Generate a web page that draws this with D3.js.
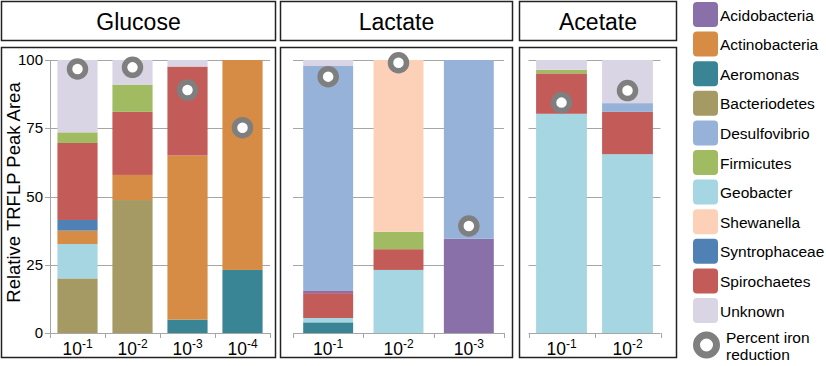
<!DOCTYPE html>
<html>
<head>
<meta charset="utf-8">
<script src="https://cdn.jsdelivr.net/npm/d3@7"></script>
<style>
  body { margin: 0; background: #fff; }
  svg { font-family: "Liberation Sans", Arial, sans-serif; }
</style>
</head>
<body>
<svg id="chart" width="826" height="366"></svg>
<script>
// legend order
let taxa = ['Acidobacteria', 'Actinobacteria', 'Aeromonas', 'Bacteriodetes', 'Desulfovibrio',
  'Firmicutes', 'Geobacter', 'Shewanella', 'Syntrophaceae', 'Spirochaetes', 'Unknown'];
let taxaColors = ['#8a70a8', '#d68c45', '#3a8595', '#a59a64', '#97b2d8',
  '#a0bb62', '#a5d6e2', '#fdd1b8', '#4f81b5', '#c35c59', '#d9d5e5'];

// stacking order, bottom to top
let stackOrder = ['Aeromonas', 'Bacteriodetes', 'Geobacter', 'Actinobacteria', 'Syntrophaceae',
  'Spirochaetes', 'Acidobacteria', 'Firmicutes', 'Desulfovibrio', 'Shewanella', 'Unknown'];

let yTicks = [0, 25, 50, 75, 100];

// Glucose
let glucoseDilutions = ['-1', '-2', '-3', '-4'];
let glucoseAeromonas      = [0, 0, 4.9, 23.1];
let glucoseBacteriodetes  = [20, 48.7, 0, 0];
let glucoseGeobacter      = [12.6, 0, 0, 0];
let glucoseActinobacteria = [4.9, 9.2, 60.1, 76.9];
let glucoseSyntrophaceae  = [3.9, 0, 0, 0];
let glucoseSpirochaetes   = [28.2, 23.1, 32.6, 0];
let glucoseFirmicutes     = [3.9, 10, 0, 0];
let glucoseUnknown        = [26.5, 9, 2.4, 0];
let glucoseIron           = [96.7, 97.3, 89, 75.2];

// Lactate
let lactateDilutions = ['-1', '-2', '-3'];
let lactateAeromonas     = [3.9, 0, 0];
let lactateGeobacter     = [1.6, 23.1, 0];
let lactateSpirochaetes  = [9.1, 7.6, 0];
let lactateAcidobacteria = [1.0, 0, 34.5];
let lactateFirmicutes    = [0, 6.4, 0];
let lactateDesulfovibrio = [82.2, 0, 65.5];
let lactateShewanella    = [0, 62.9, 0];
let lactateUnknown       = [2.2, 0, 0];
let lactateIron          = [93.9, 99, 39.2];

// Acetate
let acetateDilutions = ['-1', '-2'];
let acetateGeobacter     = [80.3, 65.5];
let acetateSpirochaetes  = [14.8, 15.5];
let acetateFirmicutes    = [1.3, 0];
let acetateDesulfovibrio = [0, 3.2];
let acetateUnknown       = [3.6, 15.8];
let acetateIron          = [84.4, 88.8];

let color = d3.scaleOrdinal().domain(taxa).range(taxaColors);

function rows(dilutions, series, iron) {
  return dilutions.map((d, i) => {
    let row = { dilution: d, iron: iron[i] };
    stackOrder.forEach(k => { row[k] = series[k] ? series[k][i] : 0; });
    return row;
  });
}

let panels = [
  {
    title: 'Glucose', box: [1, 276], plot: [50, 270], pad: 0.27, yAxis: true,
    data: rows(glucoseDilutions, {
      Aeromonas: glucoseAeromonas, Bacteriodetes: glucoseBacteriodetes, Geobacter: glucoseGeobacter,
      Actinobacteria: glucoseActinobacteria, Syntrophaceae: glucoseSyntrophaceae,
      Spirochaetes: glucoseSpirochaetes, Firmicutes: glucoseFirmicutes, Unknown: glucoseUnknown
    }, glucoseIron)
  },
  {
    title: 'Lactate', box: [280, 513], plot: [293, 504], pad: 0.29, yAxis: false,
    data: rows(lactateDilutions, {
      Aeromonas: lactateAeromonas, Geobacter: lactateGeobacter, Spirochaetes: lactateSpirochaetes,
      Acidobacteria: lactateAcidobacteria, Firmicutes: lactateFirmicutes,
      Desulfovibrio: lactateDesulfovibrio, Shewanella: lactateShewanella, Unknown: lactateUnknown
    }, lactateIron)
  },
  {
    title: 'Acetate', box: [519, 677], plot: [528.5, 660.5], pad: 0.23, yAxis: false,
    data: rows(acetateDilutions, {
      Geobacter: acetateGeobacter, Spirochaetes: acetateSpirochaetes, Firmicutes: acetateFirmicutes,
      Desulfovibrio: acetateDesulfovibrio, Unknown: acetateUnknown
    }, acetateIron)
  }
];

let $svg = d3.select('#chart');

let y = d3.scaleLinear().domain([0, 100]).range([333, 60]);
let stack = d3.stack().keys(stackOrder);

panels.forEach(p => {
  let $p = $svg.append('g');

  // title box + panel frame
  $p.append('rect')
    .attr('x', p.box[0] + 0.5).attr('y', 1.5)
    .attr('width', p.box[1] - p.box[0] - 1).attr('height', 39)
    .attr('fill', 'none').attr('stroke', '#222').attr('stroke-width', 1.5);
  $p.append('text')
    .attr('x', (p.box[0] + p.box[1]) / 2).attr('y', 30)
    .attr('text-anchor', 'middle')
    .style('font-size', '23px')
    .text(p.title);
  $p.append('rect')
    .attr('x', p.box[0] + 0.5).attr('y', 47.5)
    .attr('width', p.box[1] - p.box[0] - 1).attr('height', 310)
    .attr('fill', 'none').attr('stroke', '#222').attr('stroke-width', 1.5);

  let x = d3.scaleBand()
    .domain(p.data.map(d => d.dilution))
    .range(p.plot)
    .paddingInner(p.pad)
    .paddingOuter(p.pad / 2);

  // gridlines
  $p.append('g').selectAll('line')
    .data(yTicks.slice(1))
    .join('line')
    .attr('x1', p.plot[0] - (p.yAxis ? 5 : 0)).attr('x2', p.plot[1])
    .attr('y1', d => Math.round(y(d)) + 0.5).attr('y2', d => Math.round(y(d)) + 0.5)
    .attr('stroke', '#a6a6a6').attr('stroke-width', 1);

  // stacked bars
  let series = stack(p.data);
  $p.append('g').selectAll('g')
    .data(series)
    .join('g')
    .attr('fill', d => color(d.key))
    .selectAll('rect')
    .data(d => d)
    .join('rect')
    .attr('x', d => x(d.data.dilution))
    .attr('width', x.bandwidth())
    .attr('y', d => y(d[1]))
    .attr('height', d => y(d[0]) - y(d[1]));

  // x axis line with ticks between categories
  let $ax = $p.append('g').attr('stroke', '#a6a6a6');
  $ax.append('line')
    .attr('x1', p.plot[0] - (p.yAxis ? 5 : 0)).attr('x2', p.plot[1])
    .attr('y1', 333.5).attr('y2', 333.5);
  let step = x.step();
  d3.range(p.data.length + 1).forEach(i => {
    let tx = Math.round(p.plot[0] + i * step) + 0.5;
    $ax.append('line').attr('x1', tx).attr('x2', tx).attr('y1', 333).attr('y2', 338);
  });

  if (p.yAxis) {
    $ax.append('line')
      .attr('x1', p.plot[0] + 0.5).attr('x2', p.plot[0] + 0.5)
      .attr('y1', y(100)).attr('y2', 333.5);
    $p.append('g').selectAll('text')
      .data(yTicks)
      .join('text')
      .attr('x', p.plot[0] - 7)
      .attr('y', d => y(d) + 5)
      .attr('text-anchor', 'end')
      .style('font-size', '15px')
      .text(d => d);
    $p.append('text')
      .attr('transform', `translate(20, ${(y(0) + y(100)) / 2 - 4}) rotate(-90)`)
      .attr('text-anchor', 'middle')
      .style('font-size', '18.5px')
      .text('Relative TRFLP Peak Area');
  }

  // dilution labels 10^-n
  let $lab = $p.append('g').selectAll('text')
    .data(p.data)
    .join('text')
    .attr('x', d => x(d.dilution) + x.bandwidth() / 2)
    .attr('y', 355)
    .attr('text-anchor', 'middle')
    .style('font-size', '17.5px');
  $lab.append('tspan').text('10');
  $lab.append('tspan')
    .attr('dy', -7)
    .style('font-size', '12px')
    .text(d => d.dilution);

  // percent iron reduction rings
  $p.append('g').selectAll('circle')
    .data(p.data)
    .join('circle')
    .attr('cx', d => x(d.dilution) + x.bandwidth() / 2)
    .attr('cy', d => y(d.iron))
    .attr('r', 8)
    .attr('fill', '#fff')
    .attr('stroke', '#7f7f7f')
    .attr('stroke-width', 5.5);
});

// legend
let $legend = $svg.append('g').attr('transform', 'translate(693, 2)');
let $items = $legend.selectAll('g')
  .data(taxa)
  .join('g')
  .attr('transform', (d, i) => `translate(0, ${i * 29.6})`);
$items.append('rect')
  .attr('width', 25).attr('height', 25).attr('rx', 4)
  .attr('fill', d => color(d));
$items.append('text')
  .attr('x', 27).attr('y', 18.5)
  .style('font-size', '15.5px')
  .text(d => d);

$legend.append('circle')
  .attr('cx', 13.5).attr('cy', 343)
  .attr('r', 10)
  .attr('fill', '#fff')
  .attr('stroke', '#7f7f7f')
  .attr('stroke-width', 7);
let $rl = $legend.append('text')
  .attr('x', 33).attr('y', 341)
  .style('font-size', '15.5px');
$rl.append('tspan').text('Percent iron');
$rl.append('tspan').attr('x', 33).attr('dy', 17).text('reduction');
</script>
</body>
</html>
